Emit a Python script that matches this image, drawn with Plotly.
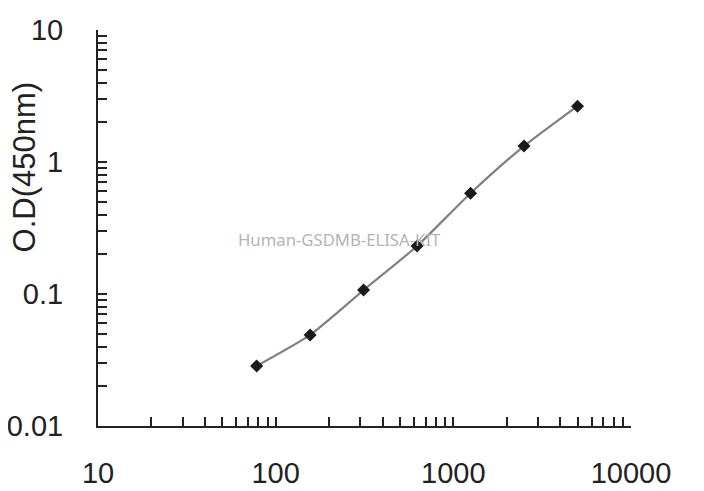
import plotly.graph_objects as go

concentration = [78.125, 156.25, 312.5, 625, 1250, 2500, 5000]
od_450 = [0.0285, 0.049, 0.107, 0.231, 0.58, 1.32, 2.65]

x_major = [10, 100, 1000, 10000]
y_major = [0.01, 0.1, 1, 10]
x_labels = ["10", "100", "1000", "10000"]
y_labels = ["0.01", "0.1", "1", "10"]


def log_ticks(majors, labels):
    vals, texts = [], []
    for i, m in enumerate(majors):
        vals.append(m)
        texts.append(labels[i])
        if i < len(majors) - 1:
            for k in range(2, 10):
                vals.append(m * k)
                texts.append("")
    return vals, texts


xv, xt = log_ticks(x_major, x_labels)
yv, yt = log_ticks(y_major, y_labels)

fig = go.Figure()
fig.add_trace(go.Scatter(
    x=concentration, y=od_450, mode="lines+markers",
    line=dict(color="#808080", width=2.2, shape="spline", smoothing=0.6),
    marker=dict(symbol="diamond", size=10, color="#1a1a1a"),
    showlegend=False,
))

axis_font = dict(family="Liberation Sans, Arial, sans-serif", size=29, color="#222222")

fig.update_layout(
    width=704, height=491,
    margin=dict(l=90, r=81, t=22, b=73),
    paper_bgcolor="white", plot_bgcolor="white",
    xaxis=dict(
        type="log", range=[1, 4], automargin=False,
        tickvals=xv, ticktext=xt,
        ticks="inside", ticklen=9, tickwidth=1.5, tickcolor="#222222",
        showline=True, linecolor="#222222", linewidth=2,
        showgrid=False, zeroline=False,
        tickfont=axis_font, ticklabelstandoff=20,
    ),
    yaxis=dict(
        type="log", range=[-2, 1], automargin=False,
        tickvals=yv, ticktext=yt,
        ticks="inside", ticklen=9, tickwidth=1.5, tickcolor="#222222",
        showline=True, linecolor="#222222", linewidth=2,
        showgrid=False, zeroline=False,
        tickfont=axis_font, ticklabelstandoff=27,
    ),
    annotations=[
        dict(text="O.D(450nm)", textangle=-90, xref="paper", yref="paper",
             x=-0.138, y=0.654, xanchor="center", yanchor="middle", showarrow=False,
             font=dict(family="Liberation Sans, Arial, sans-serif", size=31, color="#222222")),
        dict(text="Human-GSDMB-ELISA-KIT", xref="paper", yref="paper",
             x=0.454, y=0.47, xanchor="center", yanchor="middle", showarrow=False,
             font=dict(family="Noto Sans, sans-serif", size=16.7, color="#b4b4b4")),
    ],
)

fig.write_html("out.html")
